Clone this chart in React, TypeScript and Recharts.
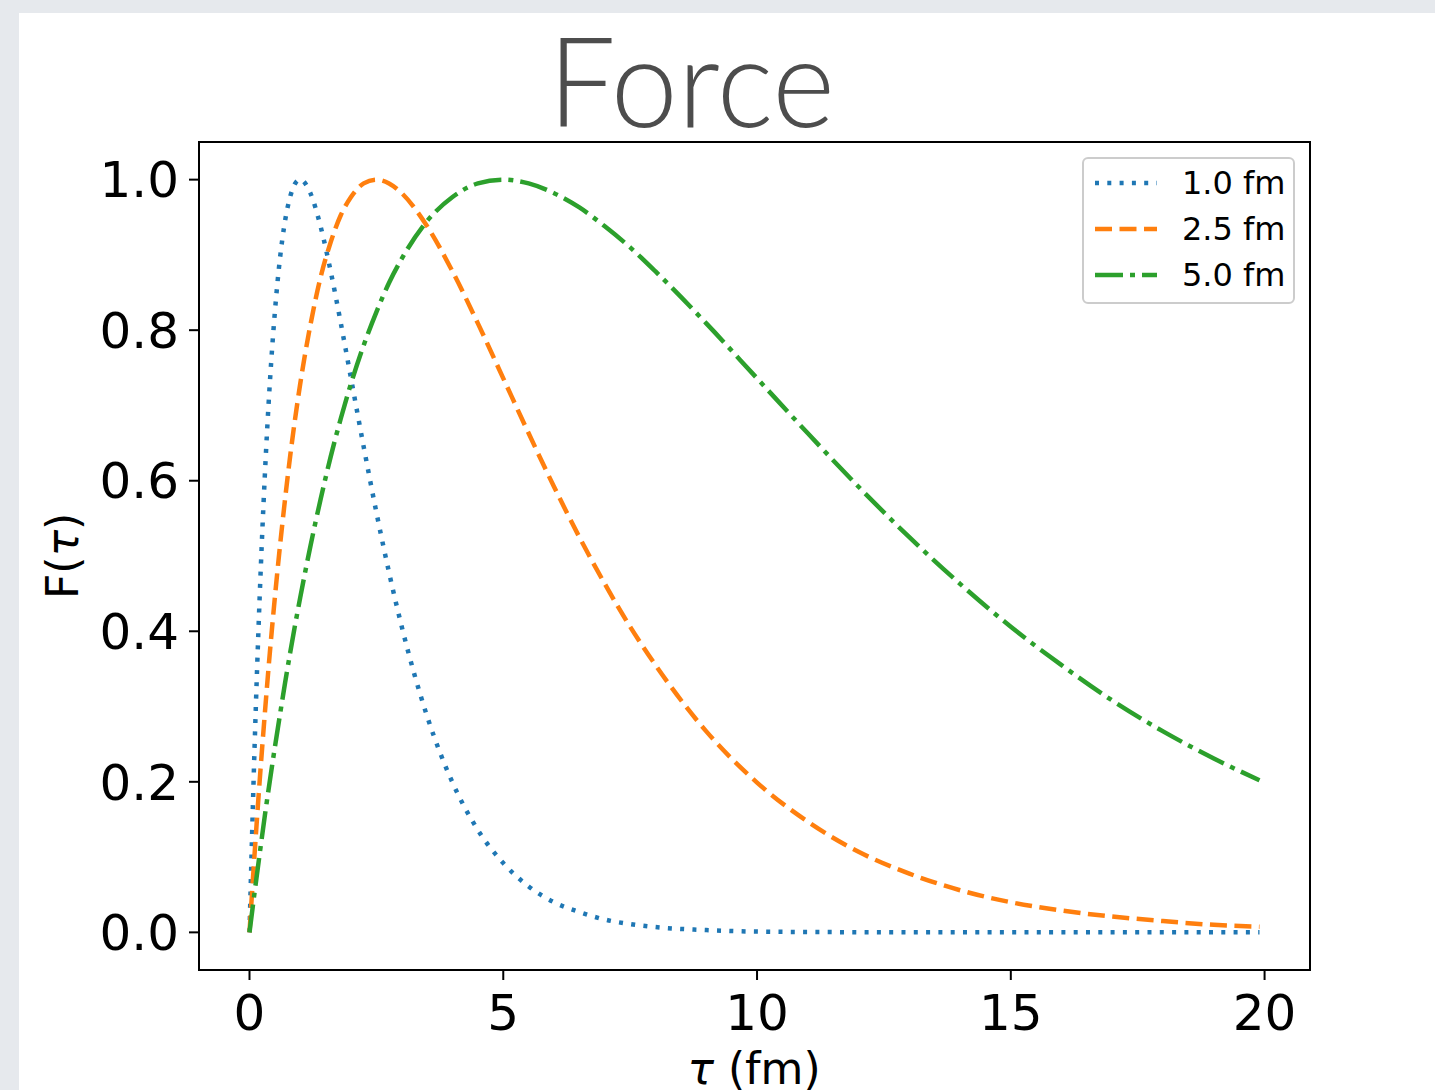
import React from 'react';
import { LineChart, Line, XAxis, YAxis, ReferenceArea } from 'recharts';

// tau samples (fm), denser near the origin where the curves rise fast
const TAU = [
  0, 0.1, 0.2, 0.3, 0.4, 0.5, 0.6, 0.7, 0.8, 0.9, 1.0, 1.2, 1.4, 1.6, 1.8, 2.0, 2.25, 2.5, 2.75, 3.0,
  3.5, 4, 4.5, 5, 5.5, 6, 6.5, 7, 7.5, 8, 9, 10, 11, 12, 13, 14, 15, 16, 17, 18, 19, 19.9,
];

// F(tau), one list per curve
const F_1_0 = [
  0, 0.246, 0.445, 0.604, 0.729, 0.824, 0.895, 0.945, 0.977, 0.995, 1.0, 0.982, 0.938, 0.878, 0.809, 0.736, 0.645, 0.558, 0.478, 0.406,
  0.287, 0.199, 0.136, 0.092, 0.061, 0.04, 0.027, 0.017, 0.011, 0.007, 0.003, 0.001, 0.0005, 0.0002, 0, 0, 0, 0, 0, 0, 0, 0,
];
const F_2_5 = [
  0, 0.104, 0.201, 0.289, 0.371, 0.445, 0.513, 0.575, 0.632, 0.683, 0.729, 0.807, 0.87, 0.917, 0.953, 0.977, 0.995, 1.0, 0.995, 0.982,
  0.938, 0.878, 0.809, 0.736, 0.663, 0.592, 0.525, 0.463, 0.406, 0.355, 0.267, 0.199, 0.147, 0.107, 0.078, 0.056, 0.04, 0.029, 0.021, 0.015, 0.01, 0.0076,
];
const F_5_0 = [
  0, 0.053, 0.104, 0.154, 0.201, 0.246, 0.289, 0.331, 0.371, 0.409, 0.445, 0.513, 0.575, 0.632, 0.683, 0.729, 0.78, 0.824, 0.863, 0.895,
  0.945, 0.977, 0.995, 1.0, 0.995, 0.982, 0.963, 0.938, 0.91, 0.878, 0.809, 0.736, 0.663, 0.592, 0.525, 0.463, 0.406, 0.355, 0.308, 0.267, 0.231, 0.202,
];

const X_TICKS = [0, 5, 10, 15, 20];
const Y_TICKS = [0, 0.2, 0.4, 0.6, 0.8, 1.0];
const X_DOMAIN: [number, number] = [-0.995, 20.895];
const Y_DOMAIN: [number, number] = [-0.05, 1.05];

const SERIES = [
  { key: 'a', name: '1.0 fm', color: '#1f77b4', dash: '4 8.3' },
  { key: 'b', name: '2.5 fm', color: '#ff7f0e', dash: '17 7.5' },
  { key: 'c', name: '5.0 fm', color: '#2ca02c', dash: '28 7 5 7' },
];

const data = TAU.map((t, i) => ({ t, a: F_1_0[i], b: F_2_5[i], c: F_5_0[i] }));

const FONT = '"DejaVu Sans", sans-serif';

const LegendBox = () => (
  <div
    style={{
      position: 'absolute',
      left: 1082,
      top: 157,
      width: 213,
      height: 147,
      boxSizing: 'border-box',
      border: '2px solid #cccccc',
      borderRadius: 6,
      background: 'rgba(255,255,255,0.8)',
    }}
  >
    <svg width={213} height={147} style={{ position: 'absolute', left: -2, top: -2 }}>
      {SERIES.map((s, i) => (
        <g key={s.key}>
          <line x1={13} x2={75} y1={26 + i * 46} y2={26 + i * 46} stroke={s.color} strokeWidth={4.5} strokeDasharray={s.dash} />
          <text x={100} y={26 + i * 46 + 11} fontSize={32} fontFamily={FONT} fill="#000">{s.name}</text>
        </g>
      ))}
    </svg>
  </div>
);

export default function App() {
  return (
    <div style={{ position: 'absolute', left: 0, top: 0, width: 1435, height: 1090, background: '#e6e9ed', overflow: 'hidden' }}>
      <div style={{ position: 'absolute', left: 19, top: 13, width: 1416, height: 1077, background: '#ffffff' }} />
      <div style={{ position: 'absolute', left: 0, top: 0 }}>
        <LineChart width={1435} height={1090} data={data} margin={{ top: 142, right: 125, bottom: 20, left: 99 }}>
          <XAxis
            dataKey="t"
            type="number"
            domain={X_DOMAIN}
            ticks={X_TICKS}
            allowDataOverflow
            height={100}
            axisLine={false}
            tickLine={{ stroke: '#000', strokeWidth: 2 }}
            tickSize={10}
            tickMargin={14}
            tick={{ fontSize: 50, fontFamily: FONT, fill: '#000' }}
          />
          <YAxis
            type="number"
            domain={Y_DOMAIN}
            ticks={Y_TICKS}
            allowDataOverflow
            width={100}
            axisLine={false}
            tickLine={{ stroke: '#000', strokeWidth: 2 }}
            tickSize={10}
            tickMargin={10}
            tickFormatter={(v: number) => v.toFixed(1)}
            tick={{ fontSize: 50, fontFamily: FONT, fill: '#000' }}
          />
          {SERIES.map((s) => (
            <Line
              key={s.key}
              type="monotone"
              dataKey={s.key}
              name={s.name}
              stroke={s.color}
              strokeWidth={4.5}
              strokeDasharray={s.dash}
              strokeLinecap="butt"
              dot={false}
              activeDot={false}
              isAnimationActive={false}
            />
          ))}
          <ReferenceArea
            x1={X_DOMAIN[0]}
            x2={X_DOMAIN[1]}
            y1={Y_DOMAIN[0]}
            y2={Y_DOMAIN[1]}
            fill="none"
            fillOpacity={0}
            stroke="#000"
            strokeWidth={2}
            ifOverflow="visible"
          />
        </LineChart>
      </div>
      <LegendBox />
      <svg width={1435} height={1090} style={{ position: 'absolute', left: 0, top: 0, pointerEvents: 'none' }}>
        <text
          x={548}
          y={127}
          fontSize={124}
          fontFamily='Lato, "Open Sans", sans-serif'
          fontWeight={300}
          fill="#4d4d4d"
          textLength={287}
          lengthAdjust="spacingAndGlyphs"
        >
          Force
        </text>
        <text x={754} y={1084} fontSize={44} fontFamily={FONT} fill="#000" textAnchor="middle">
          <tspan fontStyle="italic">τ</tspan> (fm)
        </text>
        <text
          x={0}
          y={0}
          fontSize={44}
          fontFamily={FONT}
          fill="#000"
          textAnchor="middle"
          transform="translate(78, 556) rotate(-90)"
        >
          F(<tspan fontStyle="italic">τ</tspan>)
        </text>
      </svg>
    </div>
  );
}
